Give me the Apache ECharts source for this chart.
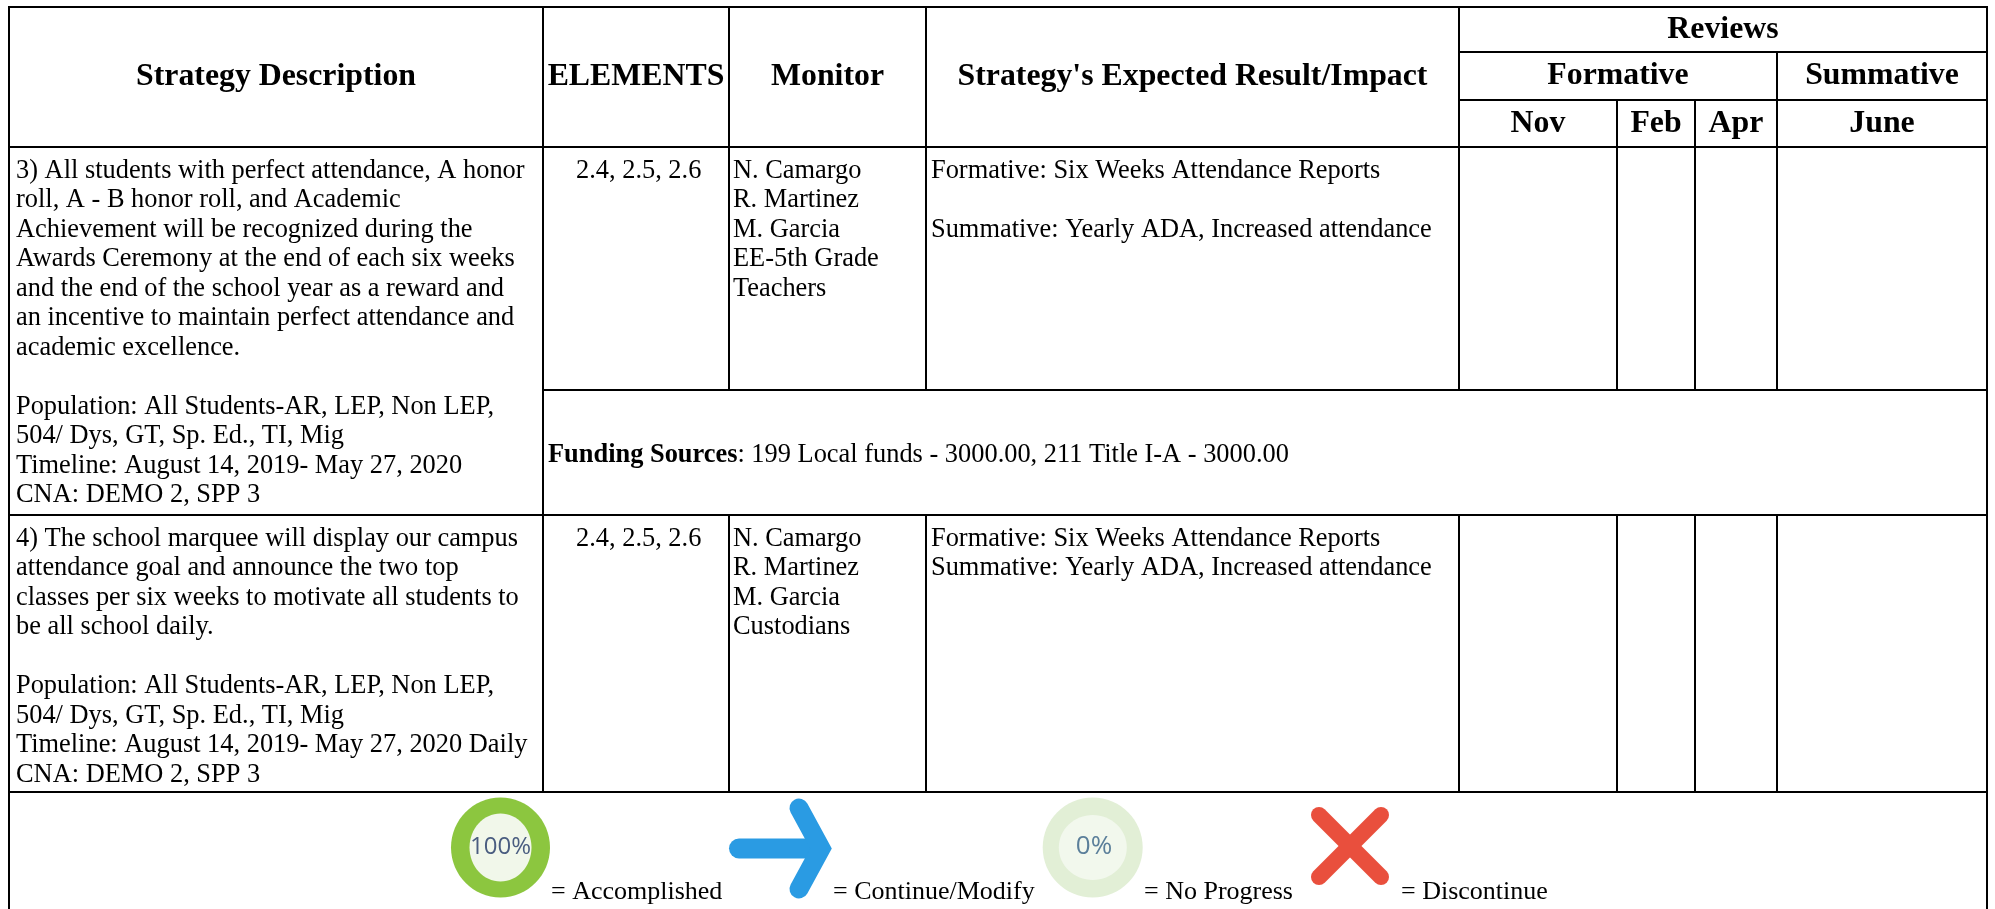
<!DOCTYPE html>
<html lang="en">

<head>
    <meta charset="UTF-8">
    <title>Strategy table</title>
    <script src="https://cdn.jsdelivr.net/npm/echarts@6.0.0/dist/echarts.min.js"></script>
    <style>
        html, body { margin: 0; padding: 0; background: #fff; }
    </style>
</head>

<body>
    <div id="container" style="width: 1995px; height: 909px"></div>
    <script>
        // table text
        const columnHeads = ['Strategy Description', 'ELEMENTS', 'Monitor', "Strategy's Expected Result/Impact"];
        const reviewHead = 'Reviews';
        const reviewGroups = ['Formative', 'Summative'];
        const reviewMonths = ['Nov', 'Feb', 'Apr', 'June'];

        const descriptions = [
            ['3) All students with perfect attendance, A honor', 'roll, A - B honor roll, and Academic', 'Achievement will be recognized during the',
                'Awards Ceremony at the end of each six weeks', 'and the end of the school year as a reward and', 'an incentive to maintain perfect attendance and',
                'academic excellence.', '', 'Population: All Students-AR, LEP, Non LEP,', '504/ Dys, GT, Sp. Ed., TI, Mig', 'Timeline: August 14, 2019- May 27, 2020', 'CNA: DEMO 2, SPP 3'],
            ['4) The school marquee will display our campus', 'attendance goal and announce the two top', 'classes per six weeks to motivate all students to',
                'be all school daily.', '', 'Population: All Students-AR, LEP, Non LEP,', '504/ Dys, GT, Sp. Ed., TI, Mig', 'Timeline: August 14, 2019- May 27, 2020 Daily', 'CNA: DEMO 2, SPP 3']
        ];
        const elements = ['2.4, 2.5, 2.6', '2.4, 2.5, 2.6'];
        const monitors = [
            ['N. Camargo', 'R. Martinez', 'M. Garcia', 'EE-5th Grade', 'Teachers'],
            ['N. Camargo', 'R. Martinez', 'M. Garcia', 'Custodians']
        ];
        const results = [
            ['Formative: Six Weeks Attendance Reports', '', 'Summative: Yearly ADA, Increased attendance'],
            ['Formative: Six Weeks Attendance Reports', 'Summative: Yearly ADA, Increased attendance']
        ];
        const fundingLabel = 'Funding Sources';
        const fundingText = ': 199 Local funds - 3000.00, 211 Title I-A - 3000.00';
        const legendLabels = ['= Accomplished', '= Continue/Modify', '= No Progress', '= Discontinue'];
        const legendPercents = ['100%', '0%'];

        // cell sizes, px
        const columnWidths = [534, 186, 197, 533, 158, 78, 82, 210];
        const rowHeights = [45, 48, 47, 243, 125, 277, 140];

        const FONT = '"Liberation Serif", "Times New Roman", serif';
        const SIZE = 26.4;
        const HEAD_SIZE = 31.8;
        const LINE = 29.5;

        function cell(x, y, text, kind) {
            const label = {
                show: true,
                overflow: 'none',
                color: '#000',
                fontFamily: FONT,
                fontSize: SIZE,
                lineHeight: LINE,
                formatter: function () { return text; }
            };
            if (kind === 'head') {
                label.fontWeight = 'bold';
                label.fontSize = HEAD_SIZE;
                label.lineHeight = 36;
                label.padding = [4, 0, 0, 0];
            }
            return { coord: [x, y], mergeCells: true, label: label, value: text };
        }

        function topLeft(x, y, lines, padLeft, padTop) {
            const c = cell(x, y, lines.join('\n'));
            c.label.position = [padLeft, padTop];
            c.label.align = 'left';
            c.label.verticalAlign = 'top';
            return c;
        }

        const bodyData = [];
        columnHeads.forEach(function (h, i) {
            bodyData.push(cell(i, [0, 2], h, 'head'));
        });
        bodyData.push(cell([4, 7], 0, reviewHead, 'head'));
        bodyData.push(cell([4, 6], 1, reviewGroups[0], 'head'));
        bodyData.push(cell(7, 1, reviewGroups[1], 'head'));
        reviewMonths.forEach(function (m, i) {
            bodyData.push(cell(4 + i, 2, m, 'head'));
        });

        // first strategy spans its own row and the funding row
        bodyData.push(topLeft(0, [3, 4], descriptions[0], 4, 7));
        bodyData.push(topLeft(0, 5, descriptions[1], 4, 7));
        [[0, 3], [1, 5]].forEach(function (r) {
            bodyData.push(topLeft(1, r[1], [elements[r[0]]], 30, 7));
            bodyData.push(topLeft(2, r[1], monitors[r[0]], 1, 7));
            bodyData.push(topLeft(3, r[1], results[r[0]], 2, 7));
        });

        const funding = topLeft([1, 7], 4, ['{b|' + fundingLabel + '}' + fundingText], 2, 48);
        funding.label.rich = { b: { fontWeight: 'bold', fontFamily: FONT, fontSize: SIZE, lineHeight: LINE, color: '#000' } };
        bodyData.push(funding);
        bodyData.push(cell([0, 7], 6, ''));

        const chart = echarts.init(document.getElementById('container'));
        const option = {
            animation: false,
            backgroundColor: '#fff',
            matrix: {
                left: 9,
                top: 7,
                width: columnWidths.reduce(function (a, b) { return a + b; }, 0),
                height: rowHeights.reduce(function (a, b) { return a + b; }, 0),
                backgroundStyle: { color: '#fff', borderColor: '#000', borderWidth: 2 },
                x: {
                    show: false,
                    data: columnWidths.map(function (w, i) { return { value: 'c' + i, size: w }; })
                },
                y: {
                    show: false,
                    data: rowHeights.map(function (h, i) { return { value: 'r' + i, size: h }; })
                },
                body: {
                    itemStyle: { color: '#fff', borderColor: '#000', borderWidth: 2 },
                    label: { show: true, color: '#000', fontFamily: FONT, fontSize: SIZE },
                    data: bodyData
                }
            },
            graphic: {
                elements: [
                    // 100% badge
                    { type: 'ellipse', shape: { cx: 500.5, cy: 847.5, rx: 49.5, ry: 50 }, style: { fill: '#8cc63f' } },
                    { type: 'ellipse', shape: { cx: 500.5, cy: 847.5, rx: 31, ry: 34 }, style: { fill: '#f1f7ea' } },
                    { type: 'text', x: 500.5, y: 847, style: { text: legendPercents[0], fill: '#4a5d80', font: '24px "Open Sans"', align: 'center', verticalAlign: 'middle' } },
                    { type: 'text', x: 551, y: 892, style: { text: legendLabels[0], fill: '#000', font: '26px ' + FONT, verticalAlign: 'middle' } },
                    // arrow
                    { type: 'line', shape: { x1: 739, y1: 848.5, x2: 815, y2: 848.5 }, style: { stroke: '#2a9be3', lineWidth: 20, lineCap: 'round' } },
                    { type: 'polyline', shape: { points: [[799, 808], [821, 848.5], [799, 889]] }, style: { stroke: '#2a9be3', fill: null, lineWidth: 19, lineCap: 'round', lineJoin: 'miter' } },
                    { type: 'text', x: 833, y: 892, style: { text: legendLabels[1], fill: '#000', font: '26px ' + FONT, verticalAlign: 'middle' } },
                    // 0% badge
                    { type: 'ellipse', shape: { cx: 1092.7, cy: 847.5, rx: 50, ry: 50 }, style: { fill: '#e2efd6' } },
                    { type: 'ellipse', shape: { cx: 1092.8, cy: 847.5, rx: 34, ry: 32.5 }, style: { fill: '#f2f8ed' } },
                    { type: 'text', x: 1094, y: 847, style: { text: legendPercents[1], fill: '#5b7f9a', font: '26px "Open Sans"', align: 'center', verticalAlign: 'middle' } },
                    { type: 'text', x: 1144, y: 892, style: { text: legendLabels[2], fill: '#000', font: '26px ' + FONT, verticalAlign: 'middle' } },
                    // cross
                    { type: 'line', shape: { x1: 1319, y1: 815, x2: 1381, y2: 877 }, style: { stroke: '#e94f3d', lineWidth: 16, lineCap: 'round' } },
                    { type: 'line', shape: { x1: 1381, y1: 815, x2: 1319, y2: 877 }, style: { stroke: '#e94f3d', lineWidth: 16, lineCap: 'round' } },
                    { type: 'text', x: 1401, y: 892, style: { text: legendLabels[3], fill: '#000', font: '26px ' + FONT, verticalAlign: 'middle' } }
                ]
            }
        };
        chart.setOption(option);
    </script>
</body>

</html>
